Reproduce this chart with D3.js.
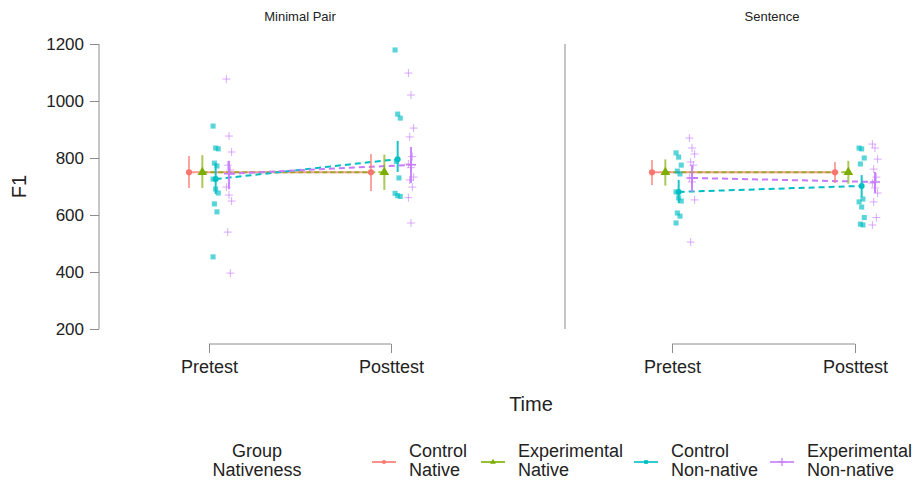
<!DOCTYPE html>
<html>
<head>
<meta charset="utf-8">
<script src="https://cdn.jsdelivr.net/npm/d3@7"></script>
<style>
  body { margin: 0; background: #fff; }
  text { font-family: "Liberation Sans", Arial, sans-serif; fill: #222; }
</style>
</head>
<body>
<svg id="chart" width="917" height="484"></svg>
<script>
// ---- data ----
const facets = ["Minimal Pair", "Sentence"];
const times = ["Pretest", "Posttest"];
const groups = ["Control Native", "Experimental Native", "Control Non-native", "Experimental Non-native"];
const colors = ["#F8766D", "#7CAE00", "#00BFC4", "#C77CFF"];
const yTicks = [200, 400, 600, 800, 1000, 1200];

// mean, lower, upper per facet -> time -> group
const meansMinimal = [
  [[750, 695, 807], [750, 695, 810], [726, 674, 782], [745, 690, 790]],
  [[750, 684, 814], [750, 688, 812], [796, 751, 860], [776, 712, 839]]
];
const meansSentence = [
  [[750, 705, 793], [750, 703, 795], [681, 642, 723], [730, 681, 775]],
  [[750, 712, 786], [750, 710, 790], [702, 663, 740], [716, 677, 751]]
];

// raw observations (non-native groups only)
const rawMinimalCtrlPre  = [912, 835, 832, 782, 772, 726, 691, 677, 639, 611, 453];
const rawMinimalCtrlPost = [1179, 954, 940, 788, 730, 676, 668, 665];
const rawMinimalExpPre   = [1077, 877, 821, 775, 758, 698, 670, 649, 540, 396];
const rawMinimalExpPost  = [1098, 1021, 905, 874, 805, 779, 766, 733, 723, 698, 661, 572];
const rawSentCtrlPre     = [818, 803, 775, 754, 744, 681, 660, 649, 607, 596, 572];
const rawSentCtrlPost    = [835, 832, 800, 779, 656, 646, 628, 591, 568, 565];
const rawSentExpPre      = [870, 835, 814, 786, 775, 730, 716, 653, 505];
const rawSentExpPost     = [849, 835, 796, 761, 733, 712, 695, 677, 646, 591, 565];

const meansByFacet = [meansMinimal, meansSentence];
const rawByFacet = [
  [[rawMinimalCtrlPre, rawMinimalExpPre], [rawMinimalCtrlPost, rawMinimalExpPost]],
  [[rawSentCtrlPre, rawSentExpPre], [rawSentCtrlPost, rawSentExpPost]]
];

// ---- layout ----
const svg = d3.select("#chart");
const plotTop = 44, plotBottom = 329;
const panels = [
  { x0: 209, x1: 391, title: 300 },
  { x0: 672, x1: 855, title: 772 }
];
const y = d3.scaleLinear().domain([200, 1200]).range([plotBottom, plotTop]);
const dodge = d3.scalePoint().domain(groups).range([-20, 20]);
const axisGrey = "#8c8c8c";

// y axis
const yAxis = svg.append("g").attr("transform", "translate(99,0)")
  .call(d3.axisLeft(y).tickValues(yTicks).tickSize(9).tickPadding(6).tickFormat(d3.format("d")));
yAxis.selectAll("path,line").attr("stroke", axisGrey);
yAxis.select(".domain").attr("d", `M0,${y(200)}V${y(1200)}`);
yAxis.selectAll("text").style("font-size", "17px").attr("fill", "#222")
  .style("font-family", "'Liberation Sans', Arial, sans-serif");

svg.append("text").attr("transform", `translate(26,${(plotTop + plotBottom) / 2}) rotate(-90)`)
  .attr("text-anchor", "middle").style("font-size", "20px").text("F1");

// right panel separator line
svg.append("line").attr("x1", 565).attr("x2", 565).attr("y1", plotTop).attr("y2", plotBottom)
  .attr("stroke", axisGrey);

const sym = {
  circle: d3.symbol().type(d3.symbolCircle),
  triangle: d3.symbol().type(d3.symbolTriangle),
  square: d3.symbol().type(d3.symbolSquare)
};
const dashes = [null, "5,3", "6,4", "6,4"];

facets.forEach((f, fi) => {
  const p = panels[fi];
  const x = d3.scalePoint().domain(times).range([p.x0, p.x1]);
  const g = svg.append("g");

  // panel title
  g.append("text").attr("x", p.title).attr("y", 21).attr("text-anchor", "middle")
    .style("font-size", "13px").text(f);

  // x axis: bracket with ticks pointing down from the line
  const xa = g.append("g").attr("transform", "translate(0,344)")
    .call(d3.axisBottom(x).tickSizeInner(9).tickSizeOuter(0).tickPadding(6));
  xa.selectAll("line").attr("stroke", axisGrey);
  xa.select(".domain").attr("stroke", axisGrey).attr("d", `M${p.x0},0H${p.x1}`);
  xa.selectAll("text").style("font-size", "18px").attr("fill", "#222")
    .style("font-family", "'Liberation Sans', Arial, sans-serif").attr("y", 16);

  const means = meansByFacet[fi];

  // mean lines
  groups.forEach((gr, gi) => {
    const pts = times.map((t, ti) => [x(t) + dodge(gr), y(means[ti][gi][0])]);
    g.append("path").attr("d", d3.line()(pts)).attr("fill", "none")
      .attr("stroke", colors[gi]).attr("stroke-width", 2)
      .attr("stroke-dasharray", dashes[gi]).attr("opacity", gi < 2 ? 0.75 : 1);
  });

  // error bars
  times.forEach((t, ti) => {
    groups.forEach((gr, gi) => {
      const m = means[ti][gi], cx = x(t) + dodge(gr);
      g.append("line").attr("x1", cx).attr("x2", cx).attr("y1", y(m[1])).attr("y2", y(m[2]))
        .attr("stroke", colors[gi]).attr("stroke-width", 2).attr("opacity", gi < 2 ? 0.65 : 0.9);
    });
  });

  // raw points
  times.forEach((t, ti) => {
    [2, 3].forEach((gi, k) => {
      const vals = rawByFacet[fi][ti][k];
      const cx = x(t) + dodge(groups[gi]);
      g.selectAll(null).data(vals).join("path")
        .attr("transform", (d, i) => `translate(${cx + ((i * 7) % 5 - 2) * 1.3},${y(d)})`)
        .attr("d", gi === 2 ? sym.square.size(26)() : "M-4,0H4M0,-4V4")
        .attr("fill", gi === 2 ? colors[gi] : "none")
        .attr("stroke", gi === 3 ? colors[gi] : "none")
        .attr("stroke-width", 1)
        .attr("opacity", 0.65);
    });
  });

  // mean points
  times.forEach((t, ti) => {
    groups.forEach((gr, gi) => {
      const m = means[ti][gi], cx = x(t) + dodge(gr);
      const s = g.append("path").attr("transform", `translate(${cx},${y(m[0])})`);
      if (gi === 0) s.attr("d", sym.circle.size(30)()).attr("fill", colors[0]);
      else if (gi === 1) s.attr("d", sym.triangle.size(40)()).attr("fill", colors[1]);
      else if (gi === 2) s.attr("d", sym.circle.size(28)()).attr("fill", colors[2]);
      else s.attr("d", "M-5,0H5M0,-5V5").attr("stroke", colors[3]).attr("stroke-width", 1.5);
    });
  });
});

// x title
svg.append("text").attr("x", 531).attr("y", 411).attr("text-anchor", "middle")
  .style("font-size", "20px").text("Time");

// legend
const leg = svg.append("g");
const legTitle = leg.append("text").attr("text-anchor", "middle").style("font-size", "18px");
legTitle.append("tspan").attr("x", 257).attr("y", 457).text("Group");
legTitle.append("tspan").attr("x", 257).attr("y", 476).text("Nativeness");

const legLabels = [["Control", "Native"], ["Experimental", "Native"], ["Control", "Non-native"], ["Experimental", "Non-native"]];
const legX = [372, 481, 634, 770];
groups.forEach((gr, gi) => {
  const lx = legX[gi], ly = 462;
  leg.append("line").attr("x1", lx).attr("x2", lx + 24).attr("y1", ly).attr("y2", ly)
    .attr("stroke", colors[gi]).attr("stroke-width", 2).attr("opacity", 0.8);
  const s = leg.append("path").attr("transform", `translate(${lx + 12},${ly})`);
  if (gi === 0) s.attr("d", sym.circle.size(12)()).attr("fill", colors[0]);
  else if (gi === 1) s.attr("d", sym.triangle.size(14)()).attr("fill", colors[1]);
  else if (gi === 2) s.attr("d", sym.square.size(14)()).attr("fill", colors[2]);
  else s.attr("d", "M-4,0H4M0,-4V4").attr("stroke", colors[3]).attr("stroke-width", 1.2);
  const t = leg.append("text").style("font-size", "18px");
  t.append("tspan").attr("x", lx + 37).attr("y", 457).text(legLabels[gi][0]);
  t.append("tspan").attr("x", lx + 37).attr("y", 476).text(legLabels[gi][1]);
});
</script>
</body>
</html>
